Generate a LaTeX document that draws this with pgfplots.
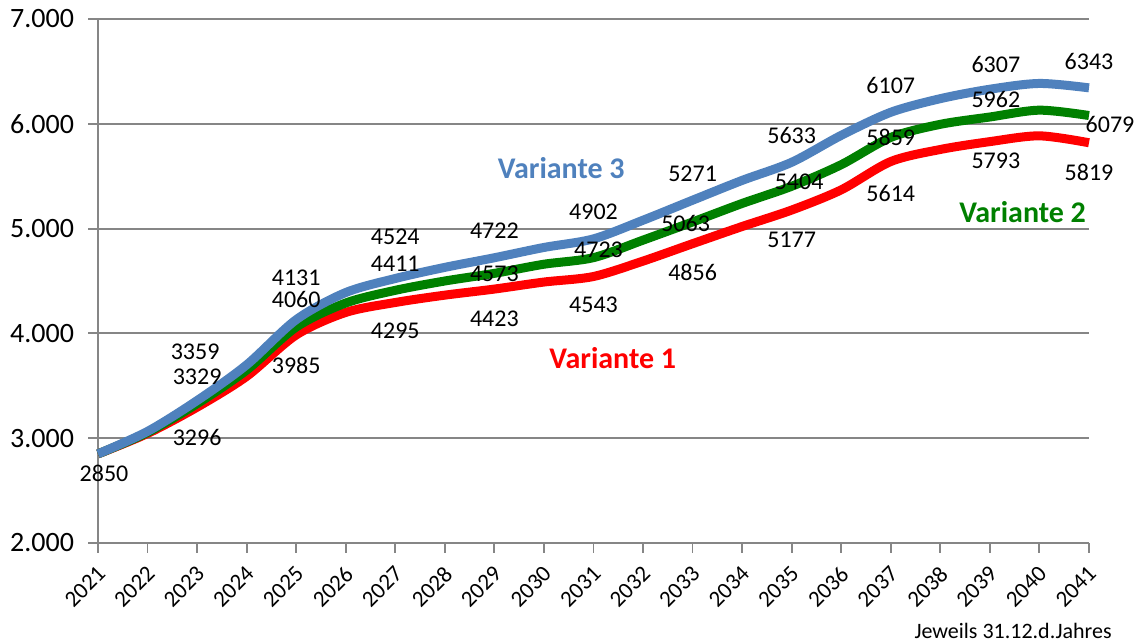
\documentclass[border=0pt]{standalone}
\usepackage{pgfplots}
\pgfplotsset{compat=1.18}
\usepackage{fontspec}
\setmainfont{Carlito}
\definecolor{vblue}{RGB}{79,129,189}
\definecolor{vgreen}{RGB}{0,128,0}
\definecolor{vred}{RGB}{255,0,0}
\definecolor{gridgray}{RGB}{134,134,134}
\begin{document}
\begin{tikzpicture}
\useasboundingbox (0,0) rectangle (574pt,321pt);
\begin{axis}[
  at={(49pt,49.5pt)}, anchor=south west,
  scale only axis, width=495.5pt, height=262pt,
  xmin=2021, xmax=2041, ymin=2000, ymax=7000,
  xtick={2021,2022,...,2041}, ytick={2000,3000,...,7000},
  axis x line*=bottom, axis y line*=left,
  axis line style={gridgray, line width=0.9pt, -},
  ymajorgrids, grid style={gridgray, line width=0.9pt},
  tick align=outside, major tick length=5pt,
  tick style={gridgray, line width=0.9pt},
  /pgf/number format/assume math mode=true,
  yticklabel style={font=\fontsize{14}{16}\selectfont, xshift=-3.5pt, /pgf/number format/1000 sep={.}},
  xticklabel style={font=\fontsize{11.5}{13}\selectfont, rotate=45, anchor=north east, inner sep=0pt, xshift=-4.7pt, yshift=-3.3pt, /pgf/number format/1000 sep={}},
  clip=false,
]
\addplot[vred, line width=4.5pt, smooth] coordinates {
(2021,2850)(2022,3045)(2023,3296)(2024,3590)(2025,3985)(2026,4200)(2027,4295)
(2028,4365)(2029,4423)(2030,4490)(2031,4543)(2032,4690)(2033,4856)(2034,5020)
(2035,5177)(2036,5370)(2037,5640)(2038,5755)(2039,5830)(2040,5885)(2041,5819)};
\addplot[vgreen, line width=4.5pt, smooth] coordinates {
(2021,2850)(2022,3055)(2023,3329)(2024,3650)(2025,4060)(2026,4290)(2027,4411)
(2028,4500)(2029,4573)(2030,4660)(2031,4723)(2032,4890)(2033,5063)(2034,5240)
(2035,5404)(2036,5610)(2037,5870)(2038,5995)(2039,6065)(2040,6130)(2041,6079)};
\addplot[vblue, line width=4.5pt, smooth] coordinates {
(2021,2850)(2022,3065)(2023,3359)(2024,3700)(2025,4131)(2026,4390)(2027,4524)
(2028,4630)(2029,4722)(2030,4820)(2031,4902)(2032,5080)(2033,5271)(2034,5460)
(2035,5633)(2036,5890)(2037,6110)(2038,6240)(2039,6330)(2040,6385)(2041,6343)};
\begin{scope}[every node/.style={font=\fontsize{12}{14}\selectfont, inner sep=0pt}]
\node[xshift=3pt, yshift=-9.7pt] at (axis cs:2021,2850) {2850};
% red
\node[yshift=-15pt] at (axis cs:2023,3296) {3296};
\node[yshift=-15pt] at (axis cs:2025,3985) {3985};
\node[yshift=-14pt] at (axis cs:2027,4295) {4295};
\node[yshift=-14.7pt] at (axis cs:2029,4423) {4423};
\node[yshift=-14.2pt] at (axis cs:2031,4543) {4543};
\node[yshift=-14.5pt] at (axis cs:2033,4856) {4856};
\node[yshift=-14.7pt] at (axis cs:2035,5177) {5177};
\node[yshift=-14.8pt] at (axis cs:2037,5614) {5614};
\node[xshift=3pt, yshift=-7.6pt] at (axis cs:2039,5793) {5793};
\node[yshift=-15pt] at (axis cs:2041,5819) {5819};
% green
\node[yshift=13.5pt] at (axis cs:2023,3329) {3329};
\node[yshift=13.9pt] at (axis cs:2025,4060) {4060};
\node[yshift=13.5pt] at (axis cs:2027,4411) {4411};
\node[yshift=0pt] at (axis cs:2029,4573) {4573};
\node[xshift=2.5pt, yshift=3.8pt] at (axis cs:2031,4723) {4723};
\node[xshift=-3.5pt, yshift=-0.7pt] at (axis cs:2033,5063) {5063};
\node[xshift=3.7pt, yshift=2.3pt] at (axis cs:2035,5404) {5404};
\node[yshift=0.6pt] at (axis cs:2037,5859) {5859};
\node[xshift=3pt, yshift=14.4pt] at (axis cs:2039,5962) {5962};
\node[xshift=10.5pt, yshift=-4.7pt] at (axis cs:2041,6079) {6079};
% blue
\node[xshift=-1pt, yshift=24.5pt] at (axis cs:2023,3359) {3359};
\node[yshift=20.7pt] at (axis cs:2025,4131) {4131};
\node[yshift=21pt] at (axis cs:2027,4524) {4524};
\node[yshift=13.5pt] at (axis cs:2029,4722) {4722};
\node[yshift=13.6pt] at (axis cs:2031,4902) {4902};
\node[yshift=13.4pt] at (axis cs:2033,5271) {5271};
\node[yshift=13.6pt] at (axis cs:2035,5633) {5633};
\node[yshift=13.5pt] at (axis cs:2037,6107) {6107};
\node[xshift=3pt, yshift=13.6pt] at (axis cs:2039,6307) {6307};
\node[yshift=13.1pt] at (axis cs:2041,6343) {6343};
\end{scope}
\node[font=\fontsize{15}{17}\selectfont\bfseries, text=vblue] at (axis cs:2030.35,5575) {Variante 3};
\node[font=\fontsize{15}{17}\selectfont\bfseries, text=vred] at (axis cs:2031.39,3762) {Variante 1};
\node[font=\fontsize{15}{17}\selectfont\bfseries, text=vgreen] at (axis cs:2039.66,5161) {Variante 2};
\end{axis}
\node[anchor=east, inner sep=0pt, font=\fontsize{11}{13}\selectfont] at (556pt,5.5pt) {Jeweils 31.12.d.Jahres};
\end{tikzpicture}
\end{document}
